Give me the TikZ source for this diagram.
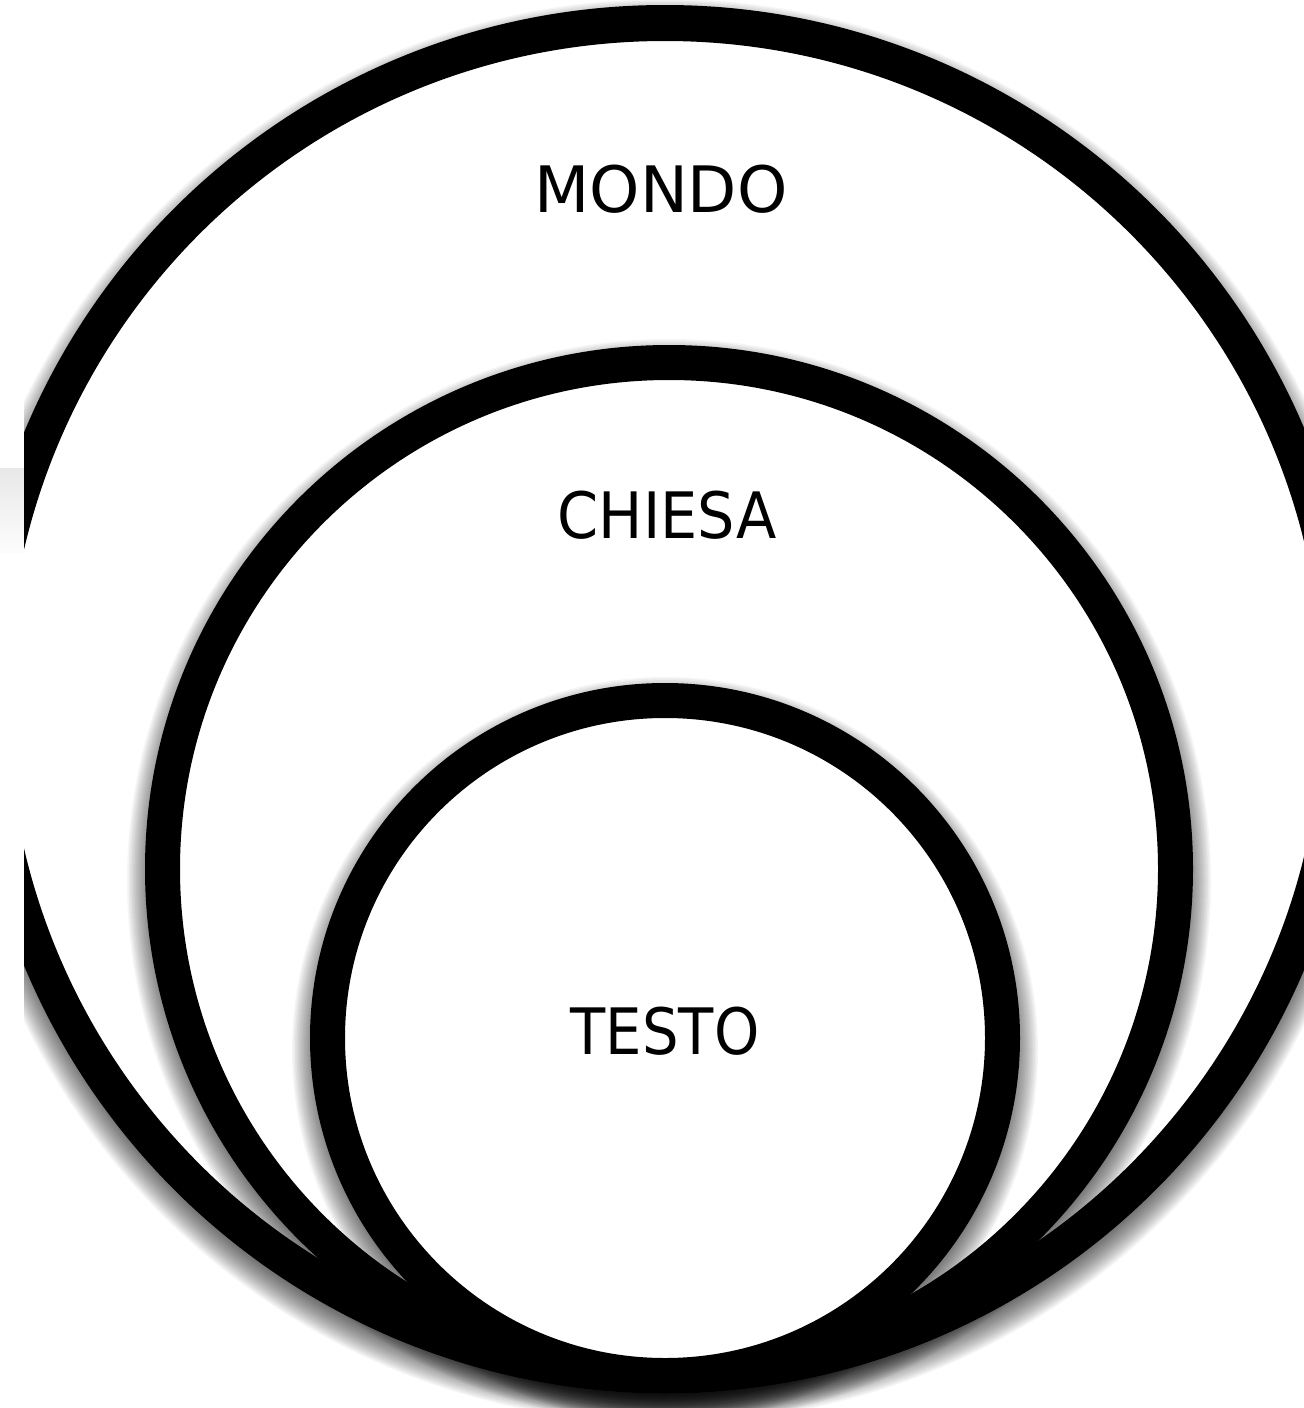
\documentclass[tikz,border=0pt]{standalone}
\usepackage{fontspec}
\setmainfont{DejaVu Sans}
\begin{document}
\begin{tikzpicture}[x=0.5pt,y=-0.5pt,
  ring/.style={draw=black, fill=white, line width=#1},
  word/.style={font=\fontsize{32}{38}\selectfont, inner sep=0pt, anchor=center, text=black}]
\fill[white] (0,0) rectangle (1304,1408);
\useasboundingbox (0,0) rectangle (1304,1408);
\shade[top color=black!9, bottom color=black!1] (0,468) rectangle (24,552);
\begin{scope}
\clip (24,0) rectangle (1304,1408);
% MONDO disk
\foreach \k in {1,...,20}{
  \pgfmathsetmacro\rr{694-12+1.5*\k}
  \fill[black, opacity=0.04] (665,711) circle[radius=\rr];
}
\path[ring=18pt] (665,699) circle[radius=676];
% CHIESA disk
\foreach \k in {1,...,20}{
  \pgfmathsetmacro\rr{524-12+1.5*\k}
  \fill[black, opacity=0.04] (669,881) circle[radius=\rr];
}
\path[ring=17.5pt] (669,869) circle[radius=506.5];
% TESTO disk
\foreach \k in {1,...,20}{
  \pgfmathsetmacro\rr{355-12+1.5*\k}
  \fill[black, opacity=0.04] (665,1050) circle[radius=\rr];
}
\path[ring=17.5pt] (665,1038) circle[radius=337.5];
\end{scope}
\node[word] (mondo) at (661,189) {MONDO};
\node[word] (chiesa) at (667,515) {\scalebox{0.92}[1]{CHIESA}};
\node[word] (testo) at (665,1031) {\scalebox{0.9}[1]{TESTO}};
\end{tikzpicture}
\end{document}
